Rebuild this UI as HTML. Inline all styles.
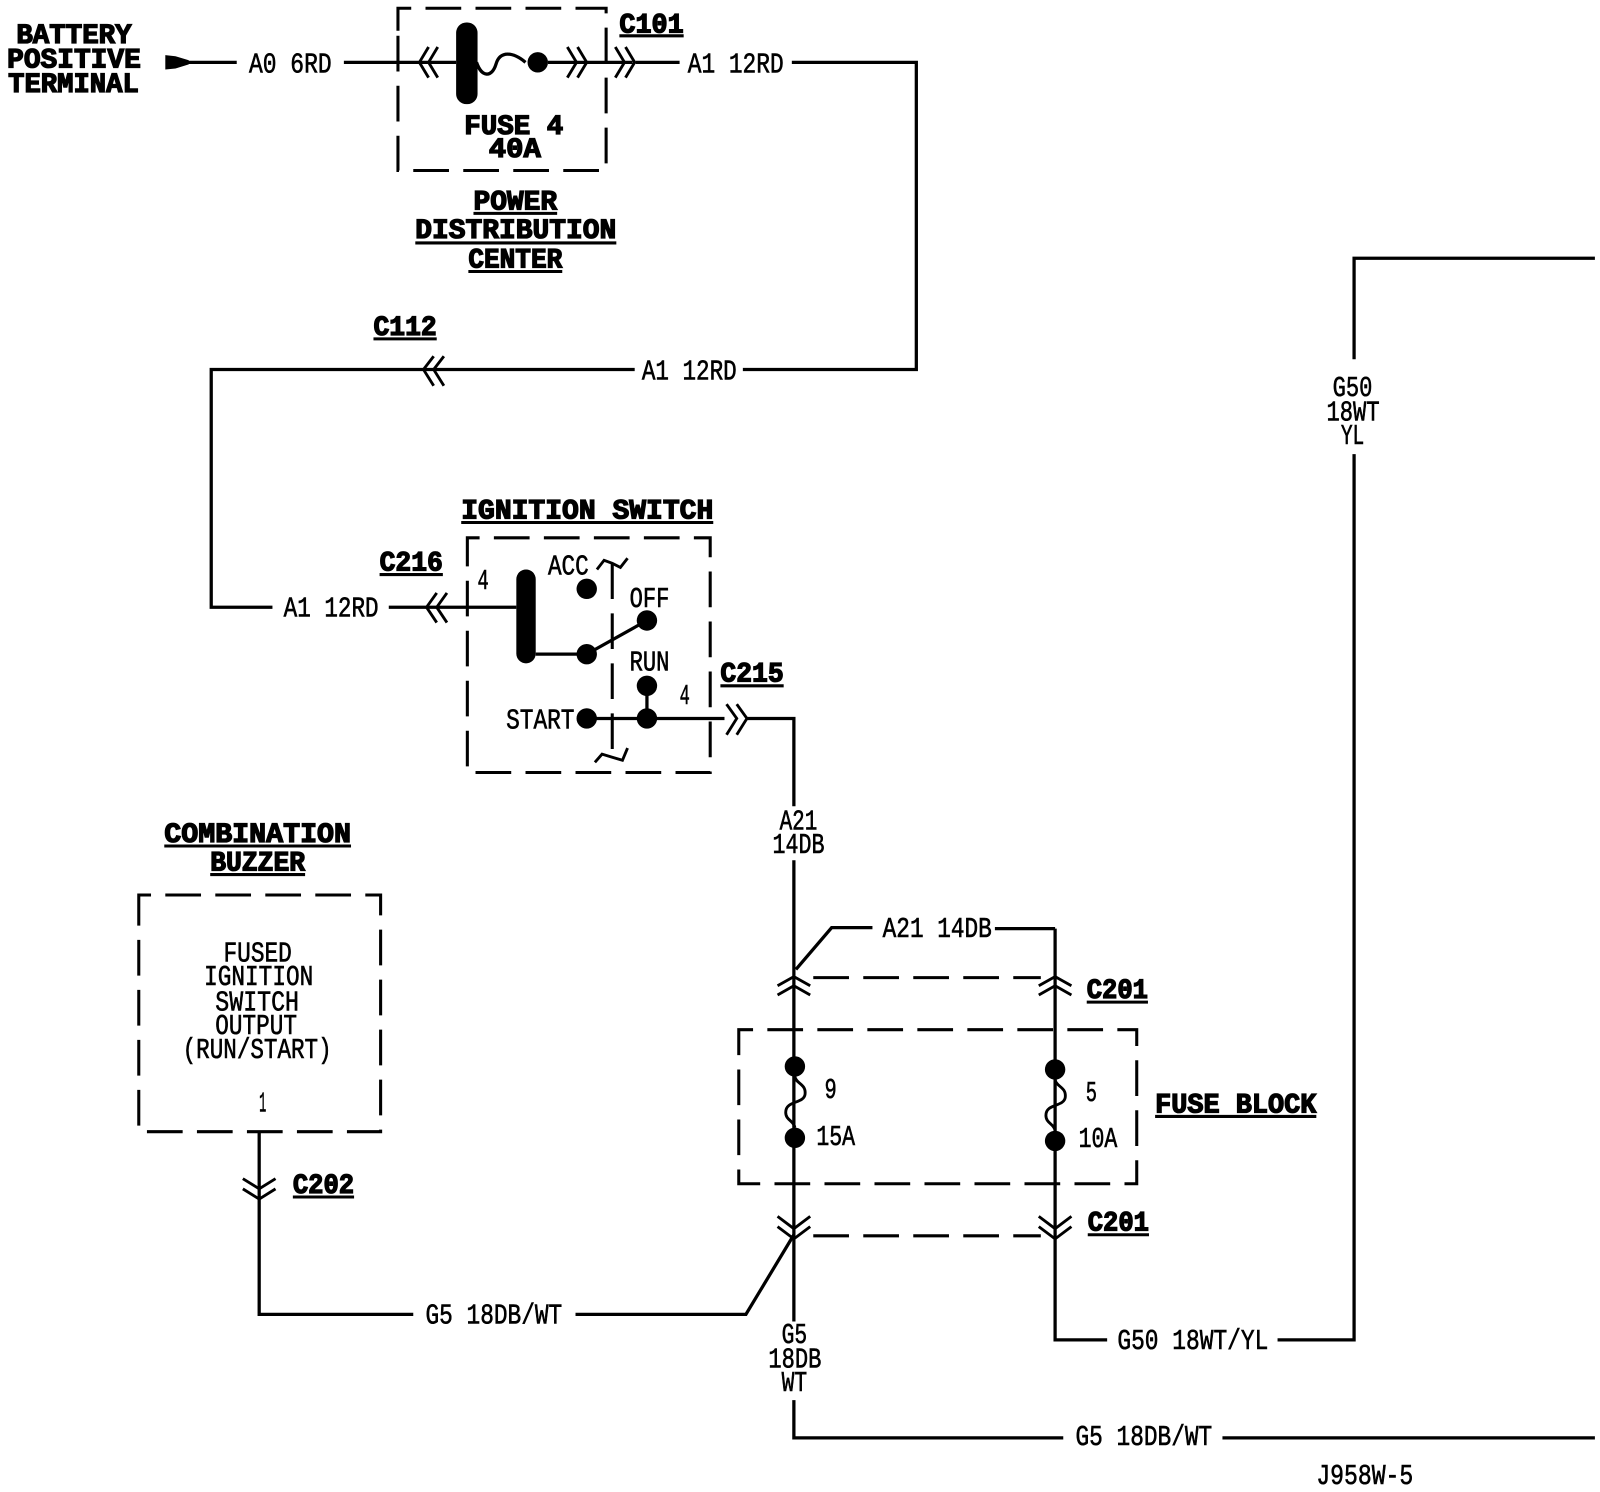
<!DOCTYPE html>
<html><head><meta charset="utf-8"><style>
html,body{margin:0;padding:0;background:#fff;width:1600px;height:1492px;overflow:hidden}
svg{display:block}
text{font-family:"Liberation Mono",monospace;fill:#000}
.r{font-size:28px;stroke:#000;stroke-width:.6px}
.b{font-size:27px;font-weight:bold;stroke:#000;stroke-width:1.3px}
.w{fill:none;stroke:#000;stroke-width:3.2}
.d{fill:none;stroke:#000;stroke-width:3;stroke-dasharray:35 14}
.c{fill:none;stroke:#000;stroke-width:2.8}
.u{stroke:#000;stroke-width:3}
</style></head><body>
<svg xmlns="http://www.w3.org/2000/svg" width="1600" height="1492" viewBox="0 0 1568 1462">
<rect width="1568" height="1462" fill="#fff"/>
<!-- wires -->
<path class="w" d="M175 61H232M337 61H447M467 61C472 76 482 76 486 63C490 49 503 51 515 61M537 61H620M623 61H666M776 61H898V362H728M622 362H207V595H267M381 595H506"/>
<path d="M162 54L172 55L185 59V63L172 67L162 68Z"/>
<path class="w" d="M525 641H575L634 608M634 672V704M575 704H710M732 704H778V790M778 843V1295M778 1372V1409H1042M1198 1409H1563"/>
<path class="w" d="M1034 910V1313H1085M1252 1313H1327V445M1327 352V253H1563"/>
<path class="w" d="M975 910H1034M855 909H815L780 950"/>
<path class="w" d="M254 1110V1288H405M564 1288H731L778 1210"/>
<!-- fuse bars & dots -->
<rect x="447" y="22" width="21" height="80" rx="10"/>
<rect x="506" y="558" width="19" height="92" rx="9.5"/>
<circle cx="527" cy="61" r="10"/>
<g>
<circle cx="575" cy="577" r="10"/><circle cx="575" cy="641" r="10"/><circle cx="634" cy="608" r="10"/>
<circle cx="634" cy="672" r="10"/><circle cx="634" cy="704" r="10"/><circle cx="575" cy="704" r="10"/>
<circle cx="779" cy="1045" r="10"/><circle cx="779" cy="1115" r="10"/>
<circle cx="1034" cy="1048" r="10"/><circle cx="1034" cy="1118" r="10"/>
</g>
<!-- dashed boxes -->
<path class="d" d="M390 30V8H594V167H390V30"/>
<path class="d" d="M458 550V527H696V757H458V550"/>
<path class="d" d="M600 552V745"/>
<path class="d" d="M136 900V877H373V1109H136V900"/>
<path class="d" d="M724 1030V1009H1114V1160H724V1030"/>
<path class="d" d="M797 958H1020M797 1211H1020"/>
<!-- chevrons -->
<path class="c" d="M420 46L411 61L420 76M429 46L420 61L429 76"/>
<path class="c" d="M556 46L565 61L556 76M566 46L575 61L566 76"/>
<path class="c" d="M603 46L612 61L603 76M613 46L622 61L613 76"/>
<path class="c" d="M425 349L415 362L425 378M435 349L425 362L435 378"/>
<path class="c" d="M428 581L418 595L428 610M438 581L428 595L438 610"/>
<path class="c" d="M712 690L722 704L712 720M722 690L732 704L722 720"/>
<path class="c" d="M762 966L778 957L794 966M762 975L778 966L794 975"/>
<path class="c" d="M1018 966L1034 957L1050 966M1018 975L1034 966L1050 975"/>
<path class="c" d="M762 1192L778 1204L794 1192M762 1202L778 1214L794 1202"/>
<path class="c" d="M1018 1192L1034 1204L1050 1192M1018 1202L1034 1214L1050 1202"/>
<path class="c" d="M238 1155L254 1165L270 1155M238 1165L254 1175L270 1165"/>
<!-- squiggles -->
<path class="c" d="M779 1055C780 1062 790 1062 789 1072C788 1082 770 1078 770 1090C770 1098 778 1098 779 1105"/>
<path class="c" d="M1034 1058C1035 1065 1045 1065 1044 1075C1043 1085 1025 1081 1025 1093C1025 1101 1033 1101 1034 1108"/>
<path class="c" d="M585 558L592 549L600 552L608 556L615 547"/>
<path class="c" d="M583 747L590 739L600 742L610 745L615 733"/>
<!-- underlines -->
<path class="u" d="M607 35H670M464 209H546M407 238H604M459 266H551M366 332H428M452 512H699M372 563H434M706 672H768M161 829H344M206 857H299M1065 982H1125M1132 1094H1290M1066 1210H1126M287 1173H347"/>
<!-- bold labels -->
<text class="b" x="16" y="42" textLength="113" lengthAdjust="spacingAndGlyphs">BATTERY</text>
<text class="b" x="7" y="66" textLength="131" lengthAdjust="spacingAndGlyphs">POSITIVE</text>
<text class="b" x="8" y="90" textLength="128" lengthAdjust="spacingAndGlyphs">TERMINAL</text>
<text class="b" x="607" y="32" textLength="63" lengthAdjust="spacingAndGlyphs">C101</text>
<text class="b" x="455" y="131" textLength="97" lengthAdjust="spacingAndGlyphs">FUSE 4</text>
<text class="b" x="479" y="154" textLength="51" lengthAdjust="spacingAndGlyphs">40A</text>
<text class="b" x="464" y="205" textLength="82" lengthAdjust="spacingAndGlyphs">POWER</text>
<text class="b" x="407" y="233" textLength="197" lengthAdjust="spacingAndGlyphs">DISTRIBUTION</text>
<text class="b" x="459" y="262" textLength="92" lengthAdjust="spacingAndGlyphs">CENTER</text>
<text class="b" x="366" y="328" textLength="62" lengthAdjust="spacingAndGlyphs">C112</text>
<text class="b" x="452" y="508" textLength="247" lengthAdjust="spacingAndGlyphs">IGNITION SWITCH</text>
<text class="b" x="372" y="559" textLength="62" lengthAdjust="spacingAndGlyphs">C216</text>
<text class="b" x="706" y="668" textLength="62" lengthAdjust="spacingAndGlyphs">C215</text>
<text class="b" x="161" y="825" textLength="183" lengthAdjust="spacingAndGlyphs">COMBINATION</text>
<text class="b" x="206" y="853" textLength="93" lengthAdjust="spacingAndGlyphs">BUZZER</text>
<text class="b" x="1065" y="978" textLength="60" lengthAdjust="spacingAndGlyphs">C201</text>
<text class="b" x="1132" y="1090" textLength="158" lengthAdjust="spacingAndGlyphs">FUSE BLOCK</text>
<text class="b" x="1066" y="1206" textLength="60" lengthAdjust="spacingAndGlyphs">C201</text>
<text class="b" x="287" y="1169" textLength="60" lengthAdjust="spacingAndGlyphs">C202</text>
<!-- regular labels -->
<text class="r" x="244" y="71" textLength="81" lengthAdjust="spacingAndGlyphs">A0 6RD</text>
<text class="r" x="674" y="71" textLength="94" lengthAdjust="spacingAndGlyphs">A1 12RD</text>
<text class="r" x="629" y="372" textLength="93" lengthAdjust="spacingAndGlyphs">A1 12RD</text>
<text class="r" x="278" y="604" textLength="93" lengthAdjust="spacingAndGlyphs">A1 12RD</text>
<text class="r" x="468" y="577" textLength="11" lengthAdjust="spacingAndGlyphs">4</text>
<text class="r" x="537" y="563" textLength="40" lengthAdjust="spacingAndGlyphs">ACC</text>
<text class="r" x="617" y="595" textLength="39" lengthAdjust="spacingAndGlyphs">OFF</text>
<text class="r" x="617" y="657" textLength="39" lengthAdjust="spacingAndGlyphs">RUN</text>
<text class="r" x="666" y="690" textLength="10" lengthAdjust="spacingAndGlyphs">4</text>
<text class="r" x="496" y="714" textLength="67" lengthAdjust="spacingAndGlyphs">START</text>
<text class="r" x="764" y="813" textLength="37" lengthAdjust="spacingAndGlyphs">A21</text>
<text class="r" x="757" y="836" textLength="51" lengthAdjust="spacingAndGlyphs">14DB</text>
<text class="r" x="865" y="918" textLength="107" lengthAdjust="spacingAndGlyphs">A21 14DB</text>
<text class="r" x="219" y="942" textLength="67" lengthAdjust="spacingAndGlyphs">FUSED</text>
<text class="r" x="200" y="965" textLength="107" lengthAdjust="spacingAndGlyphs">IGNITION</text>
<text class="r" x="211" y="990" textLength="82" lengthAdjust="spacingAndGlyphs">SWITCH</text>
<text class="r" x="211" y="1013" textLength="80" lengthAdjust="spacingAndGlyphs">OUTPUT</text>
<text class="r" x="179" y="1037" textLength="146" lengthAdjust="spacingAndGlyphs">(RUN/START)</text>
<text class="r" x="254" y="1089" textLength="7" lengthAdjust="spacingAndGlyphs">1</text>
<text class="r" x="808" y="1076" textLength="12" lengthAdjust="spacingAndGlyphs">9</text>
<text class="r" x="800" y="1122" textLength="38" lengthAdjust="spacingAndGlyphs">15A</text>
<text class="r" x="1064" y="1079" textLength="11" lengthAdjust="spacingAndGlyphs">5</text>
<text class="r" x="1057" y="1124" textLength="38" lengthAdjust="spacingAndGlyphs">10A</text>
<text class="r" x="1306" y="388" textLength="39" lengthAdjust="spacingAndGlyphs">G50</text>
<text class="r" x="1300" y="412" textLength="52" lengthAdjust="spacingAndGlyphs">18WT</text>
<text class="r" x="1314" y="435" textLength="23" lengthAdjust="spacingAndGlyphs">YL</text>
<text class="r" x="417" y="1297" textLength="134" lengthAdjust="spacingAndGlyphs">G5 18DB/WT</text>
<text class="r" x="1095" y="1322" textLength="148" lengthAdjust="spacingAndGlyphs">G50 18WT/YL</text>
<text class="r" x="766" y="1316" textLength="25" lengthAdjust="spacingAndGlyphs">G5</text>
<text class="r" x="753" y="1340" textLength="52" lengthAdjust="spacingAndGlyphs">18DB</text>
<text class="r" x="766" y="1363" textLength="25" lengthAdjust="spacingAndGlyphs">WT</text>
<text class="r" x="1054" y="1416" textLength="134" lengthAdjust="spacingAndGlyphs">G5 18DB/WT</text>
<text class="r" x="1290" y="1454" textLength="95" lengthAdjust="spacingAndGlyphs">J958W-5</text>
</svg>
</body></html>
